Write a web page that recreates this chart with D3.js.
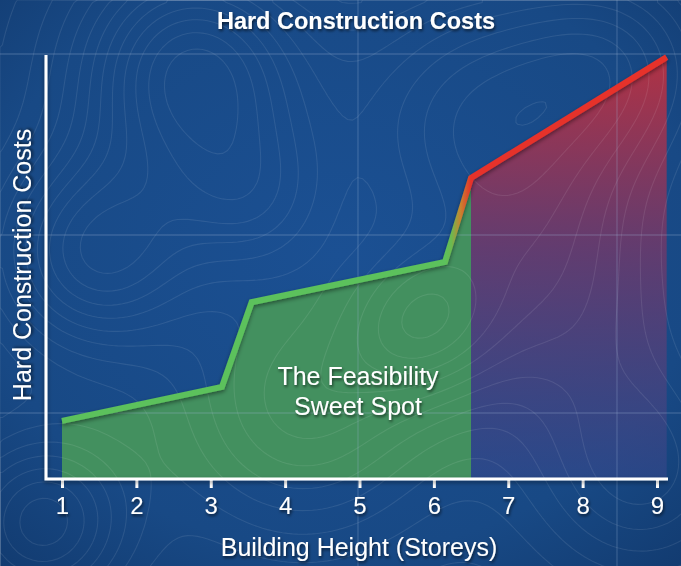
<!DOCTYPE html>
<html>
<head>
<meta charset="utf-8">
<script src="https://cdn.jsdelivr.net/npm/d3@7"></script>
<style>
  html, body { margin: 0; padding: 0; background: #184a88; }
  svg { display: block; }
  text { font-family: "Liberation Sans", Arial, Helvetica, sans-serif; fill: #fff; }
</style>
</head>
<body>
<svg id="chart" width="681" height="566"></svg>
<script>
// ---- data ----
const storeys = [1, 3.15, 3.55, 6.15, 6.5, 9.13];
const costs   = [13.7, 21.7, 41.7, 51.2, 71.0, 99.5];
const xTicks  = [1, 2, 3, 4, 5, 6, 7, 8, 9];
const sweetSpotEnd = 6.5;
const titleText = "Hard Construction Costs";
const xLabel = "Building Height (Storeys)";
const yLabel = "Hard Construction Costs";
const annotation = ["The Feasibility", "Sweet Spot"];
const annotationAt = 4.98;

const W = 681, H = 566;
const svg = d3.select("#chart");
const defs = svg.append("defs");

// background
const bg = defs.append("radialGradient").attr("id", "bg").attr("cx", "50%").attr("cy", "45%").attr("r", "75%");
bg.append("stop").attr("offset", "0%").attr("stop-color", "#1b5093");
bg.append("stop").attr("offset", "70%").attr("stop-color", "#184985");
bg.append("stop").attr("offset", "100%").attr("stop-color", "#123b70");
svg.append("rect").attr("width", W).attr("height", H).attr("fill", "url(#bg)");

// scales
const x = d3.scaleLinear().domain([1, 9]).range([62, 657]);
const y = d3.scaleLinear().domain([0, 100]).range([479, 55]);

const pts = storeys.map((s, i) => ({ s, c: costs[i] }));
const greenPts = pts.filter(p => p.s <= sweetSpotEnd);
const redPts = pts.filter(p => p.s >= sweetSpotEnd);

// red area gradient
const rg = defs.append("linearGradient").attr("id", "redArea").attr("gradientUnits", "userSpaceOnUse")
  .attr("x1", 0).attr("y1", y(100)).attr("x2", 0).attr("y2", y(0));
rg.append("stop").attr("offset", "0%").attr("stop-color", "#c0303e").attr("stop-opacity", 0.92);
rg.append("stop").attr("offset", "45%").attr("stop-color", "#753868").attr("stop-opacity", 0.8);
rg.append("stop").attr("offset", "100%").attr("stop-color", "#35488c").attr("stop-opacity", 0.6);

// line gradient
const lg = defs.append("linearGradient").attr("id", "lineGrad").attr("gradientUnits", "userSpaceOnUse")
  .attr("x1", x(storeys[3])).attr("y1", 0).attr("x2", x(storeys[4])).attr("y2", 0);
lg.append("stop").attr("offset", "0%").attr("stop-color", "#5cc15b");
lg.append("stop").attr("offset", "25%").attr("stop-color", "#6cb94f");
lg.append("stop").attr("offset", "60%").attr("stop-color", "#c9822f");
lg.append("stop").attr("offset", "100%").attr("stop-color", "#e6302b");

// shadows
const sh = defs.append("filter").attr("id", "shadow").attr("x", "-20%").attr("y", "-20%").attr("width", "140%").attr("height", "140%");
sh.append("feDropShadow").attr("dx", 0).attr("dy", 2).attr("stdDeviation", 2).attr("flood-color", "#000").attr("flood-opacity", 0.45);
const tsh = defs.append("filter").attr("id", "tshadow").attr("x", "-20%").attr("y", "-30%").attr("width", "140%").attr("height", "160%");
tsh.append("feDropShadow").attr("dx", 1).attr("dy", 2).attr("stdDeviation", 1.5).attr("flood-color", "#000").attr("flood-opacity", 0.6);

// areas
const area = d3.area().x(d => x(d.s)).y0(y(0)).y1(d => y(d.c));
svg.append("path").datum(greenPts).attr("d", area).attr("fill", "#43905f");
svg.append("path").datum(redPts).attr("d", area).attr("fill", "url(#redArea)");

// topographic texture (decorative background)
const cell = 5, gw = Math.ceil(W / cell) + 1, gh = Math.ceil(H / cell) + 1;
const bumps = [
  [190, 70, 1.0, 80], [95, 250, 0.8, 70], [480, 120, 0.8, 110], [300, 400, 0.6, 95],
  [640, 470, 0.5, 80], [40, 520, 0.7, 60], [420, 320, 0.5, 55], [250, 200, 0.5, 60],
  [560, 300, 0.4, 90], [620, 60, 0.45, 70]
];
const field = new Array(gw * gh);
for (let j = 0; j < gh; j++) for (let i = 0; i < gw; i++) {
  const px = i * cell, py = j * cell;
  let v = 0;
  for (const [cx, cy, a, s] of bumps) v += a * Math.exp(-((px - cx) ** 2 + (py - cy) ** 2) / (2 * s * s));
  field[j * gw + i] = v;
}
const contours = d3.contours().size([gw, gh]).thresholds(d3.range(0.06, 1.6, 0.085))(field);
svg.append("g")
  .attr("fill", "none").attr("stroke", "#fff").attr("stroke-opacity", 0.09).attr("stroke-width", 1.1)
  .selectAll("path").data(contours).join("path")
  .attr("d", d3.geoPath(d3.geoIdentity().scale(cell)));

// faint blueprint grid
const grid = svg.append("g").attr("stroke", "#9fb8d8").attr("stroke-opacity", 0.25).attr("stroke-width", 1.3);
[54, 235, 413].forEach(py => grid.append("line").attr("x1", 0).attr("x2", W).attr("y1", py).attr("y2", py));
[358, 617].forEach(px => grid.append("line").attr("y1", 0).attr("y2", H).attr("x1", px).attr("x2", px));

// line
const line = d3.line().x(d => x(d.s)).y(d => y(d.c));
svg.append("path").datum(pts).attr("d", line)
  .attr("fill", "none").attr("stroke", "url(#lineGrad)").attr("stroke-width", 6)
  .attr("stroke-linejoin", "miter").attr("stroke-linecap", "butt").attr("filter", "url(#shadow)");

// axes
const xAxis = d3.axisBottom(x).tickValues(xTicks).tickFormat(d3.format("d")).tickSize(9).tickSizeOuter(0).tickPadding(9);
const gx = svg.append("g").attr("transform", `translate(0,${y(0)})`).call(xAxis);
gx.select(".domain").remove();
gx.selectAll(".tick line").attr("stroke", "#fff").attr("stroke-width", 3);
gx.selectAll(".tick text").attr("font-size", 24).attr("fill", "#fff").attr("filter", "url(#tshadow)")
  .style("font-family", '"Liberation Sans", Arial, sans-serif');
svg.append("path")
  .attr("d", `M${46},${y(100)}V${y(0)}H${668}`)
  .attr("fill", "none").attr("stroke", "#fff").attr("stroke-width", 3).attr("filter", "url(#shadow)");

// texts
svg.append("text").attr("x", 356).attr("y", 29).attr("text-anchor", "middle")
  .attr("font-size", 23.5).attr("font-weight", "bold").attr("filter", "url(#tshadow)").text(titleText);
svg.append("text").attr("x", 359).attr("y", 556).attr("text-anchor", "middle")
  .attr("font-size", 25).attr("filter", "url(#tshadow)").text(xLabel);
svg.append("text").attr("transform", `translate(31,265) rotate(-90)`).attr("text-anchor", "middle")
  .attr("font-size", 25).attr("filter", "url(#tshadow)").text(yLabel);
svg.append("text").attr("text-anchor", "middle").attr("font-size", 25).attr("filter", "url(#tshadow)")
  .selectAll("tspan").data(annotation).join("tspan")
  .attr("x", x(annotationAt)).attr("y", (d, i) => 385 + i * 30).text(d => d);
</script>
</body>
</html>
